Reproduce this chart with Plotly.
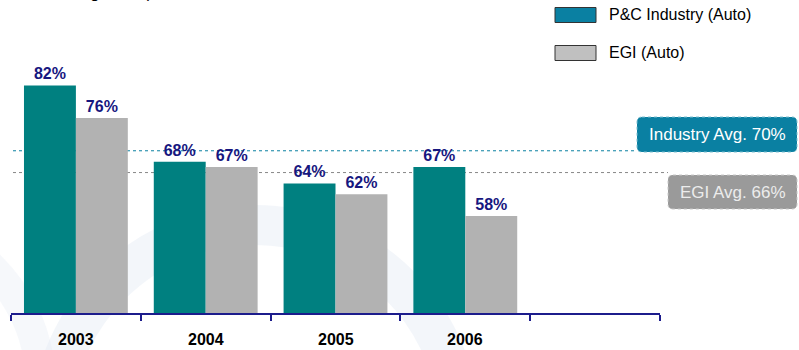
import plotly.graph_objects as go

# ---- data ----
years = ["2003", "2004", "2005", "2006"]
industry_vals = [82, 68, 64, 67]
egi_vals = [76, 67, 62, 58]
industry_avg = 70
egi_avg = 66
series_names = ["P&C Industry (Auto)", "EGI (Auto)"]
n_slots = 5  # four years plus one empty slot

W, H = 799, 350
ML, MR, MT, MB = 11, 139, 0, 37
PW, PH = W - ML - MR, H - MT - MB


def px(x):
    return (x - ML) / PW


def py(y):
    return (H - MB - y) / PH


TEAL = "#008080"
GRAY = "#b2b2b2"
NAVY = "#17177f"
IND_BOX = "#0a80a2"
EGI_BOX = "#9a9a9a"
FONT = "Arial, Liberation Sans, sans-serif"

xs = list(range(len(years)))

fig = go.Figure()
fig.add_trace(go.Bar(x=xs, y=industry_vals, name=series_names[0], marker_color=TEAL,
                     marker_line_width=0, text=[f"<b>{v}%</b>" for v in industry_vals],
                     textposition="outside", cliponaxis=False,
                     textfont=dict(family=FONT, size=16, color=NAVY)))
fig.add_trace(go.Bar(x=xs, y=egi_vals, name=series_names[1], marker_color=GRAY,
                     marker_line_width=0, text=[f"<b>{v}%</b>" for v in egi_vals],
                     textposition="outside", cliponaxis=False,
                     textfont=dict(family=FONT, size=16, color=NAVY)))

shapes = []
annotations = []

# faint watermark swoosh
shapes.append(dict(type="circle", xref="paper", yref="paper", layer="below",
                   x0=px(50), x1=px(460), y0=py(640), y1=py(225),
                   line=dict(color="rgba(228,236,243,0.45)", width=40)))
shapes.append(dict(type="circle", xref="paper", yref="paper", layer="below",
                   x0=px(-400), x1=px(40), y0=py(560), y1=py(200),
                   line=dict(color="rgba(228,236,243,0.35)", width=30)))

# average lines (behind bars)
shapes.append(dict(type="line", xref="paper", yref="y", layer="below",
                   x0=px(13), x1=px(637), y0=industry_avg, y1=industry_avg,
                   line=dict(color=IND_BOX, width=1, dash="dot")))
shapes.append(dict(type="line", xref="paper", yref="y", layer="below",
                   x0=px(13), x1=px(668), y0=egi_avg, y1=egi_avg,
                   line=dict(color="#888888", width=1, dash="dot")))


def rounded(x0, y0, x1, y1, r=5):
    # pixel coords -> paper path
    pts = [
        f"M {px(x0 + r)},{py(y0)}",
        f"L {px(x1 - r)},{py(y0)}",
        f"Q {px(x1)},{py(y0)} {px(x1)},{py(y0 + r)}",
        f"L {px(x1)},{py(y1 - r)}",
        f"Q {px(x1)},{py(y1)} {px(x1 - r)},{py(y1)}",
        f"L {px(x0 + r)},{py(y1)}",
        f"Q {px(x0)},{py(y1)} {px(x0)},{py(y1 - r)}",
        f"L {px(x0)},{py(y0 + r)}",
        f"Q {px(x0)},{py(y0)} {px(x0 + r)},{py(y0)}",
        "Z",
    ]
    return " ".join(pts)


shapes.append(dict(type="path", xref="paper", yref="paper", path=rounded(637, 117, 797, 152),
                   fillcolor=IND_BOX, line=dict(color="#7fbfd0", width=1, dash="dot")))
shapes.append(dict(type="path", xref="paper", yref="paper", path=rounded(668, 175, 797, 209),
                   fillcolor=EGI_BOX, line=dict(color="#c8c8c8", width=1, dash="dot")))
annotations.append(dict(xref="paper", yref="paper", x=px(717), y=py(134.5), showarrow=False,
                        text=f"Industry Avg. {industry_avg}%", xanchor="center", yanchor="middle",
                        font=dict(family=FONT, size=17, color="white")))
annotations.append(dict(xref="paper", yref="paper", x=px(733), y=py(192), showarrow=False,
                        text=f"EGI Avg. {egi_avg}%", xanchor="center", yanchor="middle",
                        font=dict(family=FONT, size=17, color="#ececec")))

# custom legend
leg_colors = [IND_BOX, "#c0c0c0"]
leg_y = [15, 53]
for name, col, ly in zip(series_names, leg_colors, leg_y):
    shapes.append(dict(type="rect", xref="paper", yref="paper",
                       x0=px(555), x1=px(596), y0=py(ly - 7.5), y1=py(ly + 7.5),
                       fillcolor=col, line=dict(color="#333333", width=1)))
    annotations.append(dict(xref="paper", yref="paper", x=px(607), y=py(ly), showarrow=False,
                            text=name, xanchor="left", yanchor="middle",
                            font=dict(family=FONT, size=16, color="black")))

# year labels under the axis
for i, yr in enumerate(years):
    annotations.append(dict(xref="x", yref="paper", x=i, y=py(339), showarrow=False,
                            text=f"<b>{yr}</b>", xanchor="center", yanchor="middle",
                            font=dict(family="Liberation Sans Narrow, Arial Narrow, Arial, sans-serif",
                                      size=16, color="black")))

# cut-off header text (only its lower edge is visible, as in the reference)
annotations.append(dict(xref="paper", yref="paper", x=px(154), y=py(4), showarrow=False,
                        text="(Under New Management)", xanchor="right", yanchor="bottom",
                        font=dict(family=FONT, size=17, color="black")))

fig.update_layout(
    width=W, height=H,
    margin=dict(l=ML, r=MR, t=MT, b=MB, pad=0),
    paper_bgcolor="white", plot_bgcolor="rgba(0,0,0,0)",
    barmode="group", bargap=0.2, bargroupgap=0,
    showlegend=False,
    shapes=shapes, annotations=annotations,
    xaxis=dict(range=[-0.5, n_slots - 0.5], tickvals=[i - 0.5 for i in range(n_slots + 1)],
               ticktext=[""] * (n_slots + 1), ticks="outside", ticklen=6, tickwidth=1.5,
               tickcolor="#1c1c8c", showline=True, linecolor="#1c1c8c", linewidth=1.5,
               showgrid=False, zeroline=False, fixedrange=True),
    yaxis=dict(range=[40.2, 97.7], visible=False, showgrid=False, zeroline=False, fixedrange=True),
)

fig.write_html("out.html", config={"displayModeBar": False})
